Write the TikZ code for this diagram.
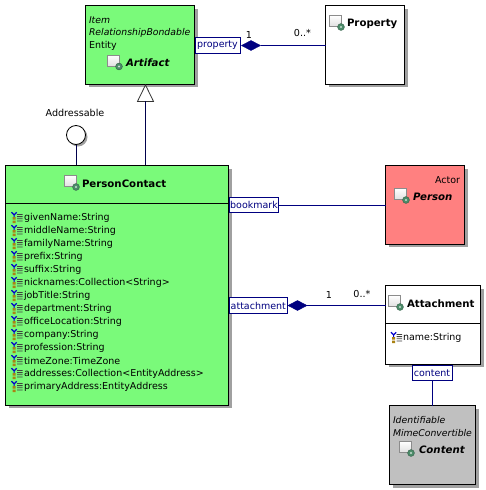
\documentclass[tikz,border=0pt]{standalone}
\usepackage{fontspec}
\setmainfont{DejaVu Sans}
\usetikzlibrary{shadows,shapes.geometric}
\definecolor{umlgreen}{RGB}{122,250,122}
\definecolor{umlred}{RGB}{255,128,128}
\definecolor{umlgray}{RGB}{192,192,192}
\definecolor{umlnavy}{RGB}{0,0,128}
\definecolor{umlshadow}{RGB}{160,160,160}
\definecolor{icongreen}{RGB}{75,140,105}
\definecolor{attryellow}{RGB}{170,130,20}
\tikzset{
  x=1pt,y=-1pt,
  umlbox/.style={draw=black,line width=1pt,anchor=north west,inner sep=0pt,outer sep=0pt,
    drop shadow={shadow xshift=3pt,shadow yshift=-3pt,fill=umlshadow,opacity=1}},
  rolelabel/.style={draw=umlnavy,fill=white,line width=.8pt,text=umlnavy,font=\fontsize{9.5}{10}\selectfont,
    inner sep=0pt,outer sep=0pt,minimum height=15.5pt,anchor=center},
  txt/.style={anchor=west,inner sep=0pt,outer sep=0pt,yshift=-.8pt,font=\fontsize{9.5}{10}\selectfont},
  ital/.style={txt,font=\fontsize{9.3}{10}\selectfont\itshape},
  boldtxt/.style={txt,font=\fontsize{10.2}{10}\selectfont\bfseries},
  bolditaltxt/.style={txt,font=\fontsize{10.2}{10}\selectfont\bfseries\itshape},
  multi/.style={anchor=center,inner sep=0pt,outer sep=0pt,yshift=-.5pt,font=\fontsize{9.6}{10}\selectfont},
  assoc/.style={draw=umlnavy,line width=1pt},
  inherit/.style={draw=black!70!blue,line width=1pt},
  comp/.style={diamond,fill=umlnavy,draw=umlnavy,line width=.4pt,inner sep=0pt,outer sep=0pt,minimum width=19pt,minimum height=10pt},
}
\newcommand{\classicon}[2]{%
  \begin{scope}[shift={(#1,#2)}]
    \shade[top color=white,bottom color=black!12,draw=black!45,line width=.8pt] (0,0) rectangle (11.5,11);
    \fill[icongreen,draw=icongreen!70!black,line width=.5pt] (11.5,11.5) circle (3.4);
    \fill[white!70!icongreen] (11.5,11.5) circle (1.2);
  \end{scope}}
\newcommand{\attricon}[2]{%
  \begin{scope}[shift={(#1,#2)}]
    \draw[blue!80!black,line width=1.2pt] (0,-4.8) -- (2.6,-2.2) -- (5.2,-4.8) (2.6,-2.2) -- (2.6,-.2);
    \fill[attryellow] (1,.2) rectangle (4,2.6) (1,3.6) rectangle (4,6);
    \fill[black!75] (5.5,-3) rectangle (11,-2.2) (5.5,-.8) rectangle (11,0) (5.5,1.4) rectangle (11,2.2) (5.5,3.6) rectangle (11,4.4);
  \end{scope}}
\begin{document}
\begin{tikzpicture}
\useasboundingbox (0,0) rectangle (486,490);
% boxes
\node[umlbox,fill=umlgreen,minimum width=109pt,minimum height=78.5pt] (artifact) at (85.5,5.5) {};
\node[umlbox,fill=white,minimum width=79pt,minimum height=78.5pt] (property) at (325.5,5.5) {};
\node[umlbox,fill=umlgreen,minimum width=223pt,minimum height=239.5pt] (contact) at (5.5,165.5) {};
\node[umlbox,fill=umlred,minimum width=79pt,minimum height=78.5pt] (person) at (385.5,165.5) {};
\node[umlbox,fill=white,minimum width=95pt,minimum height=78.5pt] (attachment) at (385.5,285.5) {};
\node[umlbox,fill=umlgray,minimum width=86pt,minimum height=79pt] (content) at (389.5,405.5) {};
\coordinate (contactsepa) at (5.5,203);
\coordinate (contactsepb) at (228.5,203);
\coordinate (attsepa) at (385.5,323);
\coordinate (attsepb) at (480.5,323);
\draw[black,line width=.8pt] (contactsepa) -- (contactsepb);
\draw[black,line width=.8pt] (attsepa) -- (attsepb);
% role labels and diamonds
\node[rolelabel,minimum width=45pt] (lproperty) at (217.5,45.5) {property};
\node[rolelabel,minimum width=49pt] (lbookmark) at (254,205) {bookmark};
\node[rolelabel,minimum width=57.5pt] (lattachment) at (258.3,305.5) {attachment};
\node[rolelabel,minimum width=40pt] (lcontent) at (432,373) {content};
\node[comp] (dproperty) at (251,45.5) {};
\node[comp] (dattachment) at (297.5,305.5) {};
% connectors
\coordinate (propin) at (property.west |- dproperty);
\draw[assoc] (dproperty) -- (propin);
\draw[assoc] (lbookmark.east) -- (person.west |- lbookmark);
\coordinate (attin) at (attachment.west |- dattachment);
\draw[assoc] (dattachment) -- (attin);
\coordinate (contentin) at (lcontent.south |- content.north);
\draw[assoc] (lcontent.south) -- (contentin);
% generalisation
\node[isosceles triangle,isosceles triangle apex angle=52,shape border rotate=90,draw=black!80,fill=white,line width=.8pt,
  inner sep=0pt,outer sep=0pt,minimum height=16pt,minimum width=16pt,anchor=apex] (gen) at (145.5,85) {};
\coordinate (genfoot) at (145.5,165);
\draw[inherit] (gen.south) -- (genfoot);
% interface
\node[circle,draw=black,fill=white,line width=.8pt,minimum size=19pt,inner sep=0pt,outer sep=0pt,
  drop shadow={shadow xshift=2pt,shadow yshift=-2pt,fill=umlshadow,opacity=1}] (iface) at (76,135) {};
\coordinate (ifacefoot) at (76,165);
\draw[inherit] (iface.south) -- (ifacefoot);
\node[multi] (ifacelabel) at (75,112) {Addressable};
% texts: Artifact
\node[ital] (t1) at (89,19) {Item};
\node[ital] (t2) at (89,32) {RelationshipBondable};
\node[txt] (t3) at (89,45) {Entity};
\classicon{107.5}{55}
\node[bolditaltxt] (t4) at (126,62) {Artifact};
% Property
\classicon{329.5}{15.5}
\node[boldtxt] (t5) at (347,23) {Property};
% PersonContact
\classicon{64.5}{175.5}
\node[boldtxt] (t6) at (82,183) {PersonContact};
\foreach \n [count=\i from 0] in {givenName:String,middleName:String,familyName:String,prefix:String,suffix:String,nicknames:Collection<String>,jobTitle:String,department:String,officeLocation:String,company:String,profession:String,timeZone:TimeZone,addresses:Collection<EntityAddress>,primaryAddress:EntityAddress}{
  \attricon{11.5}{217+13*\i}
  \node[txt] (attr\i) at (24,217+13*\i) {\n};
}
% Person
\node[txt,anchor=east] (t7) at (460,179) {Actor};
\classicon{394.5}{188.5}
\node[bolditaltxt] (t8) at (413,196) {Person};
% Attachment
\classicon{388.5}{295.5}
\node[boldtxt] (t9) at (407,303) {Attachment};
\attricon{391}{337}
\node[txt] (t10) at (403,337) {name:String};
% Content
\node[ital] (t11) at (393,419) {Identifiable};
\node[ital] (t12) at (393,432) {MimeConvertible};
\classicon{399.5}{441.5}
\node[bolditaltxt] (t13) at (419,449) {Content};
% multiplicities
\node[multi] (m1) at (249,34) {1};
\node[multi] (m2) at (302.5,33) {0..*};
\node[multi] (m3) at (329,294) {1};
\node[multi] (m4) at (362,294) {0..*};
\end{tikzpicture}
\end{document}
